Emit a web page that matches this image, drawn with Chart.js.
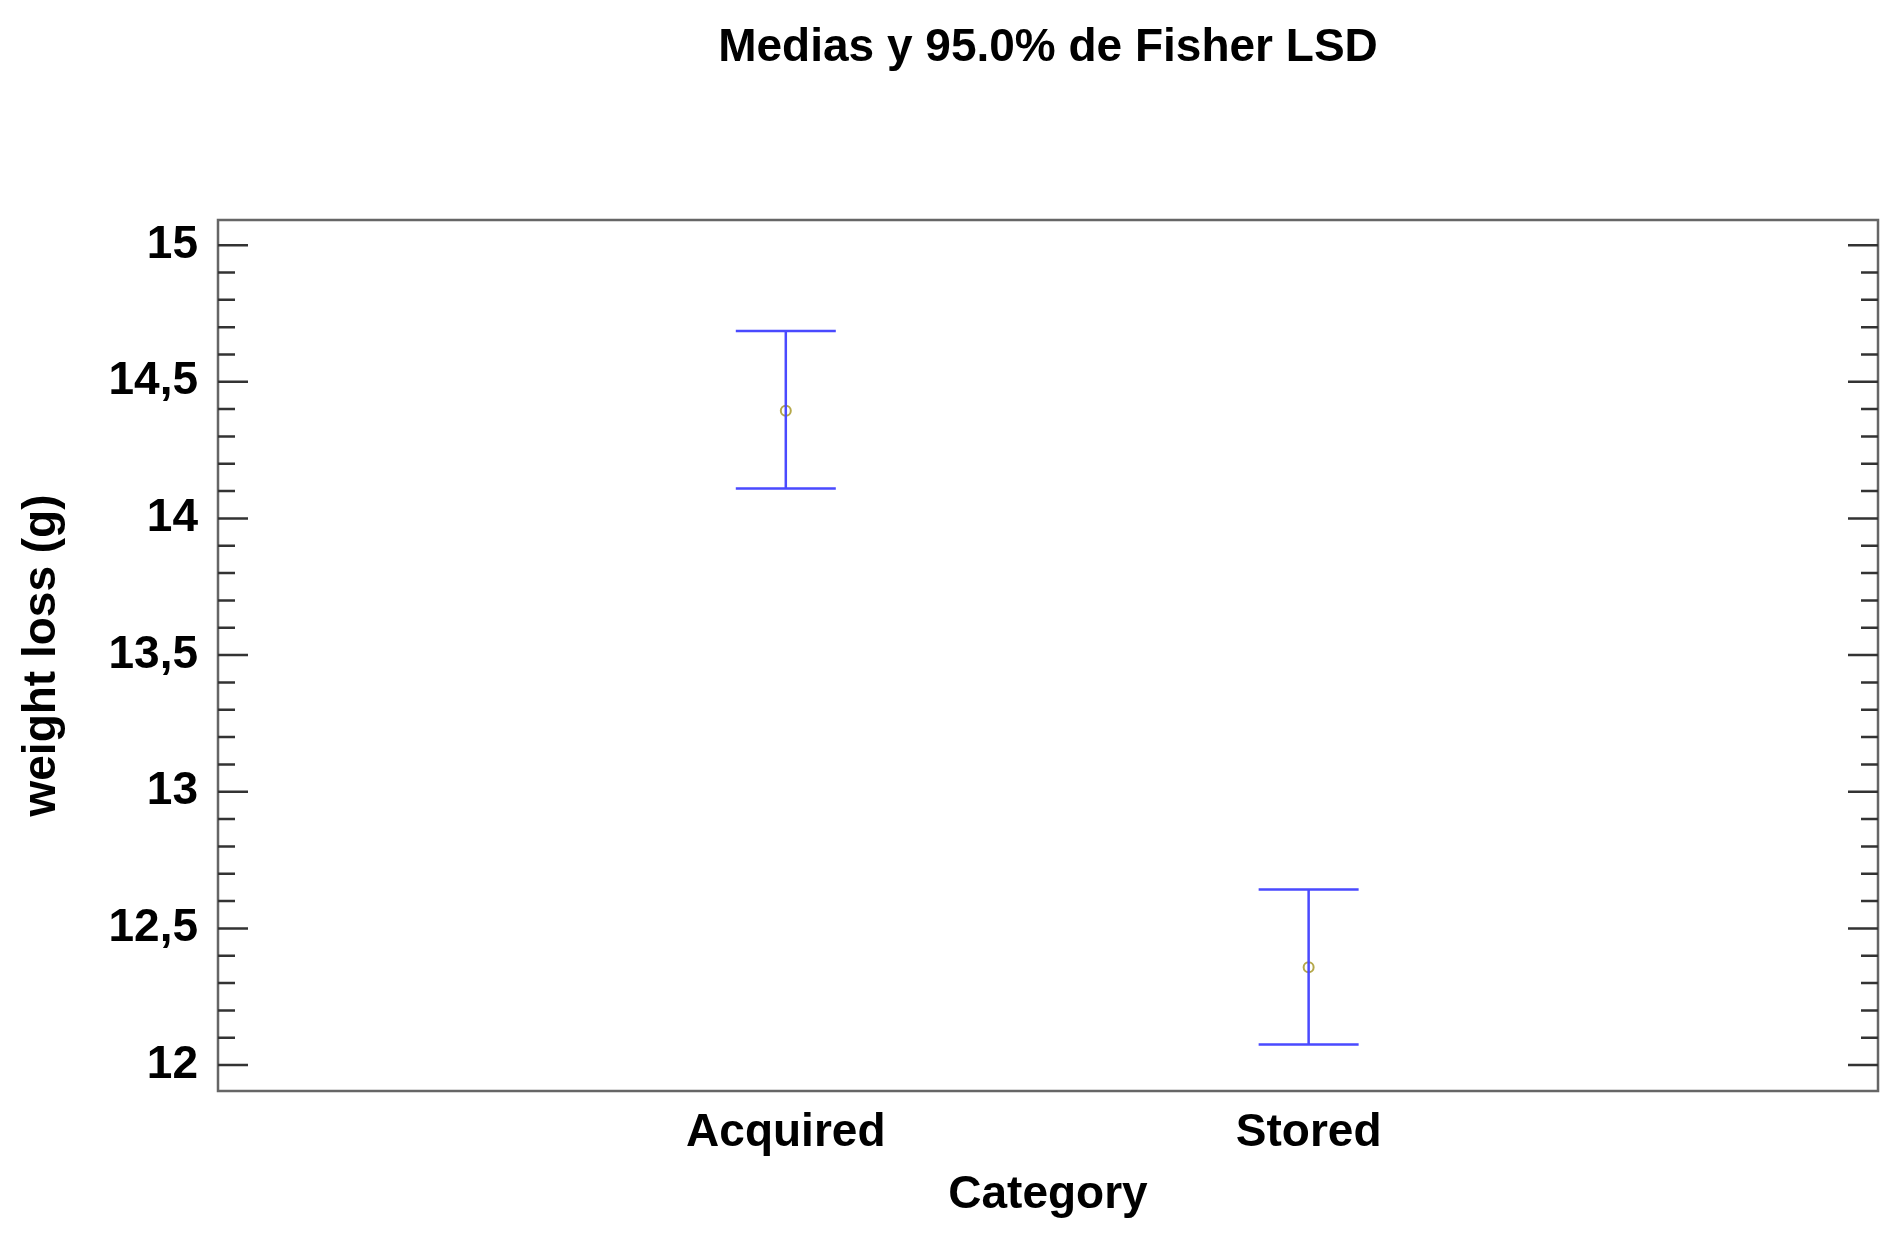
<!DOCTYPE html>
<html><head><meta charset="utf-8">
<script src="https://cdn.jsdelivr.net/npm/chart.js@4.4.1/dist/chart.umd.min.js"></script>
<style>html,body{margin:0;padding:0;background:#fff}#wrap{width:1896px;height:1233px}</style>
</head><body><div id="wrap"><canvas id="c"></canvas></div>
<script>
const categories = ['Acquired', 'Stored'];
const means = [14.394, 12.358];
const lower = [14.110, 12.075];
const upper = [14.686, 12.642];
const majorTicks = [12, 12.5, 13, 13.5, 14, 14.5, 15];
const tickLabels = ['12', '12,5', '13', '13,5', '14', '14,5', '15'];
const titleText = 'Medias y 95.0% de Fisher LSD';
const xTitle = 'Category';
const yTitle = 'weight loss (g)';

const FONT = '"Liberation Sans", Arial, sans-serif';
const deco = {
  id: 'deco',
  afterDatasetsDraw(chart) {
    const ctx = chart.ctx, a = chart.chartArea;
    const xs = chart.scales.x, ys = chart.scales.y;
    ctx.save();
    ctx.strokeStyle = '#4a4aff'; ctx.lineWidth = 2.5;
    categories.forEach((c, i) => {
      const x = xs.getPixelForValue(i + 1);
      const yl = ys.getPixelForValue(lower[i]), yu = ys.getPixelForValue(upper[i]);
      ctx.beginPath();
      ctx.moveTo(x, yl); ctx.lineTo(x, yu);
      ctx.moveTo(x - 50, yl); ctx.lineTo(x + 50, yl);
      ctx.moveTo(x - 50, yu); ctx.lineTo(x + 50, yu);
      ctx.stroke();
    });
    ctx.strokeStyle = '#666'; ctx.lineWidth = 2.5;
    ctx.strokeRect(a.left, a.top, a.right - a.left, a.bottom - a.top);
    ctx.strokeStyle = '#333'; ctx.lineWidth = 2.5;
    for (let k = 120; k <= 150; k++) {
      const v = k / 10, y = ys.getPixelForValue(v);
      const len = (k % 5 === 0) ? 30 : 17;
      ctx.beginPath();
      ctx.moveTo(a.left, y); ctx.lineTo(a.left + len, y);
      ctx.moveTo(a.right, y); ctx.lineTo(a.right - len, y);
      ctx.stroke();
    }
    ctx.fillStyle = '#000';
    ctx.font = 'bold 46px ' + FONT;
    ctx.textAlign = 'right'; ctx.textBaseline = 'middle';
    majorTicks.forEach((v, i) => ctx.fillText(tickLabels[i], a.left - 20, ys.getPixelForValue(v)));
    ctx.textAlign = 'center';
    categories.forEach((c, i) => ctx.fillText(c, xs.getPixelForValue(i + 1), 1133));
    ctx.fillText(xTitle, (a.left + a.right) / 2, 1195);
    ctx.font = 'bold 46px ' + FONT;
    ctx.fillText(titleText, (a.left + a.right) / 2, 48);
    ctx.save();
    ctx.translate(42, (a.top + a.bottom) / 2); ctx.rotate(-Math.PI / 2);
    ctx.font = 'bold 46px ' + FONT;
    ctx.fillText(yTitle, 0, 0);
    ctx.restore();
    ctx.restore();
  }
};

new Chart(document.getElementById('c'), {
  type: 'scatter',
  data: { datasets: [{
    data: means.map((m, i) => ({ x: i + 1, y: m })),
    pointRadius: 5, pointBorderColor: '#b5a84a', pointBackgroundColor: '#fff', pointBorderWidth: 2
  }]},
  options: {
    responsive: true, maintainAspectRatio: false, animation: false,
    layout: { padding: { left: 218, right: 18, top: 220, bottom: 142 } },
    plugins: { legend: { display: false }, tooltip: { enabled: false } },
    scales: {
      x: { type: 'linear', min: -0.086, max: 3.089, display: false },
      y: { min: 11.905, max: 15.092, display: false }
    }
  },
  plugins: [deco]
});
</script></body></html>
